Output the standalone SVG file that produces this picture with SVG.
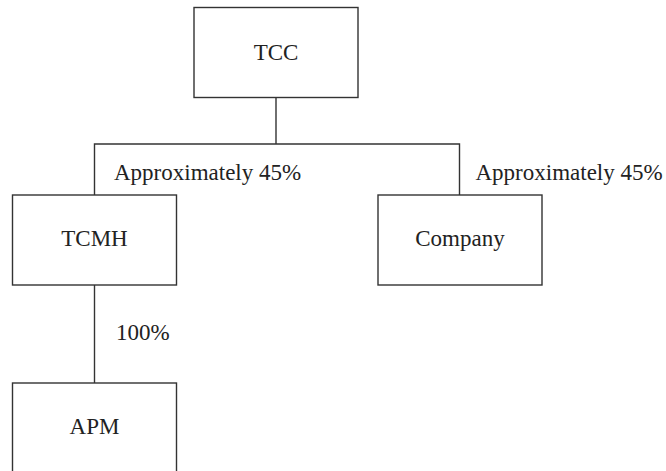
<svg xmlns="http://www.w3.org/2000/svg" width="666" height="471" viewBox="0 0 666 471">
<style>
.box{fill:#fff;stroke:#333;stroke-width:1.4}
.ln{stroke:#333;stroke-width:1.4;fill:none}
.t{font-family:'Liberation Serif','Times New Roman','DejaVu Serif',serif;font-size:23px;fill:#222}
.c{text-anchor:middle}
</style>
<rect width="666" height="471" fill="#fff"/>
<g id="connectors">
<line class="ln" x1="276" y1="97.5" x2="276" y2="144"/>
<polyline class="ln" points="94.5,195 94.5,144 459.5,144 459.5,195"/>
<line class="ln" x1="94.5" y1="285" x2="94.5" y2="383"/>
<text class="t" x="114" y="180">Approximately 45%</text>
<text class="t" x="475.5" y="180">Approximately 45%</text>
<text class="t" x="116" y="340">100%</text>
</g>
<g id="TCC">
<rect class="box" x="194" y="7.5" width="164" height="90"/>
<text class="t c" x="276" y="59.5">TCC</text>
</g>
<g id="TCMH">
<rect class="box" x="12.5" y="195" width="164" height="90"/>
<text class="t c" x="94.5" y="246">TCMH</text>
</g>
<g id="Company">
<rect class="box" x="378" y="195" width="164" height="90"/>
<text class="t c" x="460" y="246">Company</text>
</g>
<g id="APM">
<rect class="box" x="12.5" y="383" width="164" height="92"/>
<text class="t c" x="94.5" y="434">APM</text>
</g>
</svg>
